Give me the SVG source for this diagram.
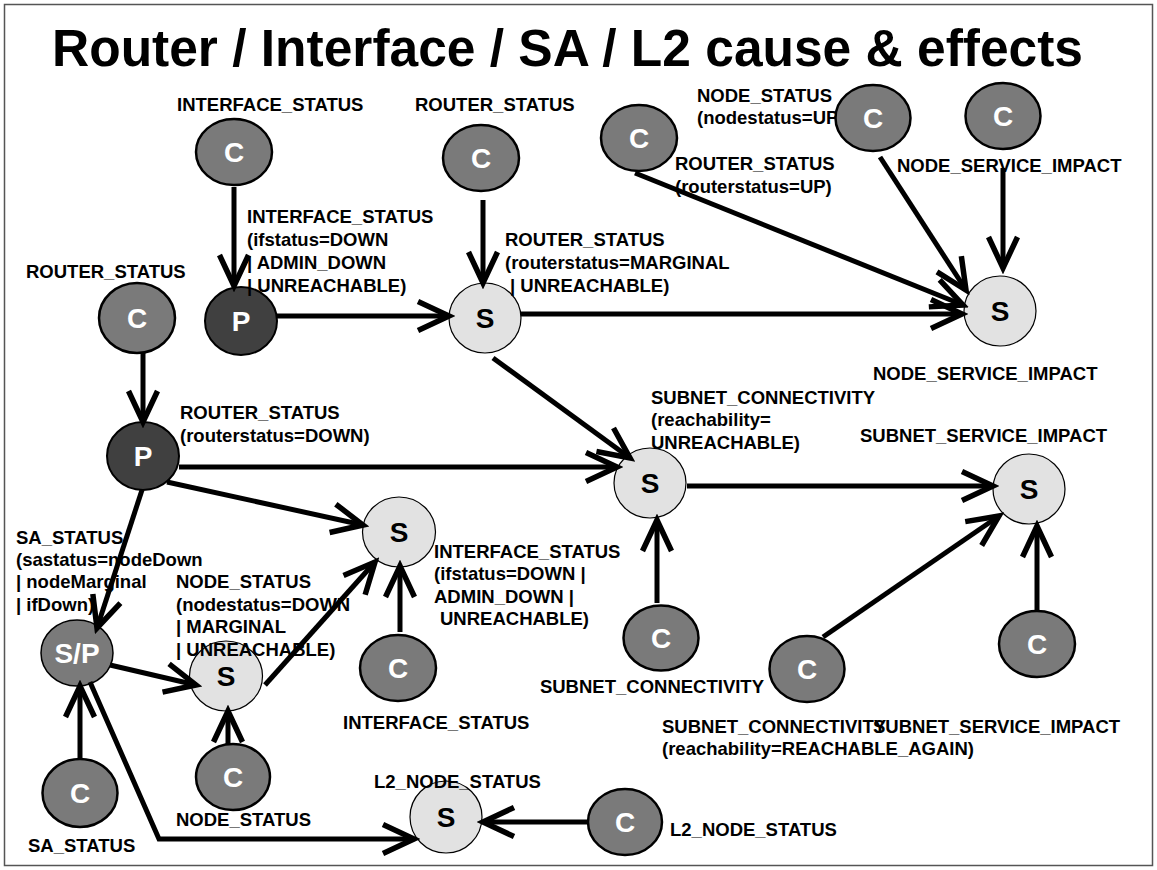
<svg xmlns="http://www.w3.org/2000/svg" width="1157" height="870" viewBox="0 0 1157 870">
<defs>
<style>
.t{font-family:"Liberation Sans",Arial,sans-serif;font-weight:bold;font-size:18.5px;fill:#000}
.title{font-family:"Liberation Sans",Arial,sans-serif;font-weight:bold;font-size:51px;fill:#000}
.nl{font-family:"Liberation Sans",Arial,sans-serif;font-weight:bold;font-size:28px;text-anchor:middle}
.c{fill:#7a7a7a;stroke:#000;stroke-width:2.5}
.p{fill:#404040;stroke:#000;stroke-width:2}
.s{fill:#e2e2e2;stroke:#000;stroke-width:1.2}
.sp{fill:#7a7a7a;stroke:#000;stroke-width:1.5}
.w{fill:#fff}
.k{fill:#000}
.e{fill:none;stroke:#000;stroke-width:5;marker-end:url(#ah)}
</style>
<marker id="ah" markerUnits="userSpaceOnUse" orient="auto" markerWidth="44" markerHeight="40" viewBox="-36 -20 40 40" refX="0" refY="0">
<path d="M-31,-14.5 L0,0 L-31,14.5" fill="none" stroke="#000" stroke-width="5.5" stroke-linejoin="miter"/>
</marker>
</defs>
<rect x="4.5" y="4.5" width="1148" height="861" fill="#fff" stroke="#555" stroke-width="1.5"/>
<text class="title" x="52" y="66" textLength="1031" lengthAdjust="spacingAndGlyphs">Router / Interface / SA / L2 cause &amp; effects</text>

<g id="labels-under">
<text class="t" x="697" y="102">NODE_STATUS</text>
<text class="t" x="697" y="124">(nodestatus=UP</text>
</g>

<g id="C1"><ellipse class="c" cx="234" cy="152" rx="38" ry="33"/><text class="nl w" x="234" y="162">C</text></g>
<g id="C2"><ellipse class="c" cx="481" cy="158" rx="38" ry="33"/><text class="nl w" x="481" y="168">C</text></g>
<g id="C3"><ellipse class="c" cx="639" cy="138" rx="38" ry="33"/><text class="nl w" x="639" y="148">C</text></g>
<g id="C4"><ellipse class="c" cx="873" cy="118" rx="37.5" ry="33"/><text class="nl w" x="873" y="128">C</text></g>
<g id="C5"><ellipse class="c" cx="1003" cy="116" rx="37.5" ry="33"/><text class="nl w" x="1003" y="126">C</text></g>
<g id="C6"><ellipse class="c" cx="137" cy="318" rx="38" ry="35"/><text class="nl w" x="137" y="328">C</text></g>
<g id="P1"><ellipse class="p" cx="241" cy="321" rx="36" ry="34"/><text class="nl w" x="241" y="331">P</text></g>
<g id="S1"><ellipse class="s" cx="485" cy="318" rx="36" ry="35"/><text class="nl k" x="485" y="328">S</text></g>
<g id="S2"><ellipse class="s" cx="1000" cy="311" rx="36" ry="35"/><text class="nl k" x="1000" y="321">S</text></g>
<g id="P2"><ellipse class="p" cx="143" cy="456" rx="36" ry="34"/><text class="nl w" x="143" y="466">P</text></g>
<g id="S3"><ellipse class="s" cx="650" cy="483" rx="36" ry="35"/><text class="nl k" x="650" y="493">S</text></g>
<g id="S4"><ellipse class="s" cx="1029" cy="489" rx="36" ry="35"/><text class="nl k" x="1029" y="499">S</text></g>
<g id="S5"><ellipse class="s" cx="399" cy="532" rx="36.5" ry="35"/><text class="nl k" x="399" y="542">S</text></g>
<g id="SP"><ellipse class="sp" cx="77" cy="653" rx="36" ry="33"/><text class="nl w" x="77" y="663">S/P</text></g>
<g id="S6"><ellipse class="s" cx="226" cy="676" rx="36.5" ry="35"/><text class="nl k" x="226" y="686">S</text></g>
<g id="C7"><ellipse class="c" cx="398" cy="668" rx="38" ry="33"/><text class="nl w" x="398" y="678">C</text></g>
<g id="C8"><ellipse class="c" cx="661" cy="638" rx="37.5" ry="32.5"/><text class="nl w" x="661" y="648">C</text></g>
<g id="C9"><ellipse class="c" cx="807" cy="669" rx="37.5" ry="33"/><text class="nl w" x="807" y="679">C</text></g>
<g id="C10"><ellipse class="c" cx="1037" cy="644" rx="38" ry="33"/><text class="nl w" x="1037" y="654">C</text></g>
<g id="C11"><ellipse class="c" cx="80" cy="793" rx="37.5" ry="34"/><text class="nl w" x="80" y="803">C</text></g>
<g id="C12"><ellipse class="c" cx="233" cy="777" rx="37" ry="33"/><text class="nl w" x="233" y="787">C</text></g>
<g id="S7"><ellipse class="s" cx="446" cy="817" rx="36" ry="36"/><text class="nl k" x="446" y="827">S</text></g>
<g id="C13"><ellipse class="c" cx="625" cy="822" rx="37" ry="33"/><text class="nl w" x="625" y="832">C</text></g>

<g id="labels">
<text class="t" x="177" y="111">INTERFACE_STATUS</text>
<text class="t" x="415" y="111">ROUTER_STATUS</text>
<text class="t" x="675" y="170">ROUTER_STATUS</text>
<text class="t" x="675" y="193">(routerstatus=UP)</text>
<text class="t" x="897" y="172">NODE_SERVICE_IMPACT</text>
<text class="t" x="247" y="223">INTERFACE_STATUS</text>
<text class="t" x="247" y="246">(ifstatus=DOWN</text>
<text class="t" x="247" y="269">| ADMIN_DOWN</text>
<text class="t" x="247" y="292">| UNREACHABLE)</text>
<text class="t" x="505" y="246">ROUTER_STATUS</text>
<text class="t" x="505" y="269">(routerstatus=MARGINAL</text>
<text class="t" x="510" y="292">| UNREACHABLE)</text>
<text class="t" x="26" y="278">ROUTER_STATUS</text>
<text class="t" x="873" y="380">NODE_SERVICE_IMPACT</text>
<text class="t" x="180" y="419">ROUTER_STATUS</text>
<text class="t" x="180" y="442">(routerstatus=DOWN)</text>
<text class="t" x="651" y="404">SUBNET_CONNECTIVITY</text>
<text class="t" x="651" y="426">(reachability=</text>
<text class="t" x="651" y="449">UNREACHABLE)</text>
<text class="t" x="860" y="442">SUBNET_SERVICE_IMPACT</text>
<text class="t" x="16" y="544">SA_STATUS</text>
<text class="t" x="16" y="566">(sastatus=nodeDown</text>
<text class="t" x="16" y="588">| nodeMarginal</text>
<text class="t" x="16" y="611">| ifDown)</text>
<text class="t" x="176" y="588">NODE_STATUS</text>
<text class="t" x="176" y="611">(nodestatus=DOWN</text>
<text class="t" x="176" y="633">| MARGINAL</text>
<text class="t" x="176" y="656">| UNREACHABLE)</text>
<text class="t" x="434" y="558">INTERFACE_STATUS</text>
<text class="t" x="434" y="580">(ifstatus=DOWN |</text>
<text class="t" x="434" y="603">ADMIN_DOWN |</text>
<text class="t" x="440" y="625">UNREACHABLE)</text>
<text class="t" x="343" y="729">INTERFACE_STATUS</text>
<text class="t" x="764" y="693" text-anchor="end">SUBNET_CONNECTIVITY</text>
<text class="t" x="662" y="733">SUBNET_CONNECTIVITY</text>
<text class="t" x="873" y="733">SUBNET_SERVICE_IMPACT</text>
<text class="t" x="662" y="755">(reachability=REACHABLE_AGAIN)</text>
<text class="t" x="374" y="788">L2_NODE_STATUS</text>
<text class="t" x="176" y="826">NODE_STATUS</text>
<text class="t" x="28" y="852">SA_STATUS</text>
<text class="t" x="670" y="836">L2_NODE_STATUS</text>
</g>

<g id="connectors">
<line class="e" x1="234" y1="187" x2="234" y2="286"/>
<line class="e" x1="483" y1="200" x2="483" y2="283"/>
<line class="e" x1="277" y1="316" x2="449" y2="316"/>
<line class="e" x1="521" y1="314" x2="962" y2="314"/>
<line class="e" x1="635" y1="173" x2="963" y2="305"/>
<line class="e" x1="880" y1="157" x2="966" y2="290"/>
<line class="e" x1="1003" y1="168" x2="1003" y2="268"/>
<line class="e" x1="493" y1="358" x2="630" y2="458"/>
<line class="e" x1="143" y1="353" x2="143" y2="422"/>
<line class="e" x1="179" y1="467" x2="617" y2="467"/>
<line class="e" x1="167" y1="482" x2="363" y2="525"/>
<line class="e" x1="142" y1="490" x2="97" y2="628"/>
<line class="e" x1="687" y1="486" x2="993" y2="486"/>
<line class="e" x1="657" y1="603" x2="657" y2="520"/>
<line class="e" x1="823" y1="637" x2="999" y2="516"/>
<line class="e" x1="1037" y1="610" x2="1037" y2="526"/>
<line class="e" x1="400" y1="632" x2="400" y2="566"/>
<line class="e" x1="265" y1="685" x2="375" y2="562"/>
<line class="e" x1="110" y1="665" x2="196" y2="685"/>
<line class="e" x1="80" y1="760" x2="80" y2="686"/>
<line class="e" x1="228" y1="745" x2="228" y2="711"/>
<polyline class="e" points="90,682 159,839 414,839"/>
<line class="e" x1="588" y1="822" x2="483" y2="822"/>
</g>
</svg>
